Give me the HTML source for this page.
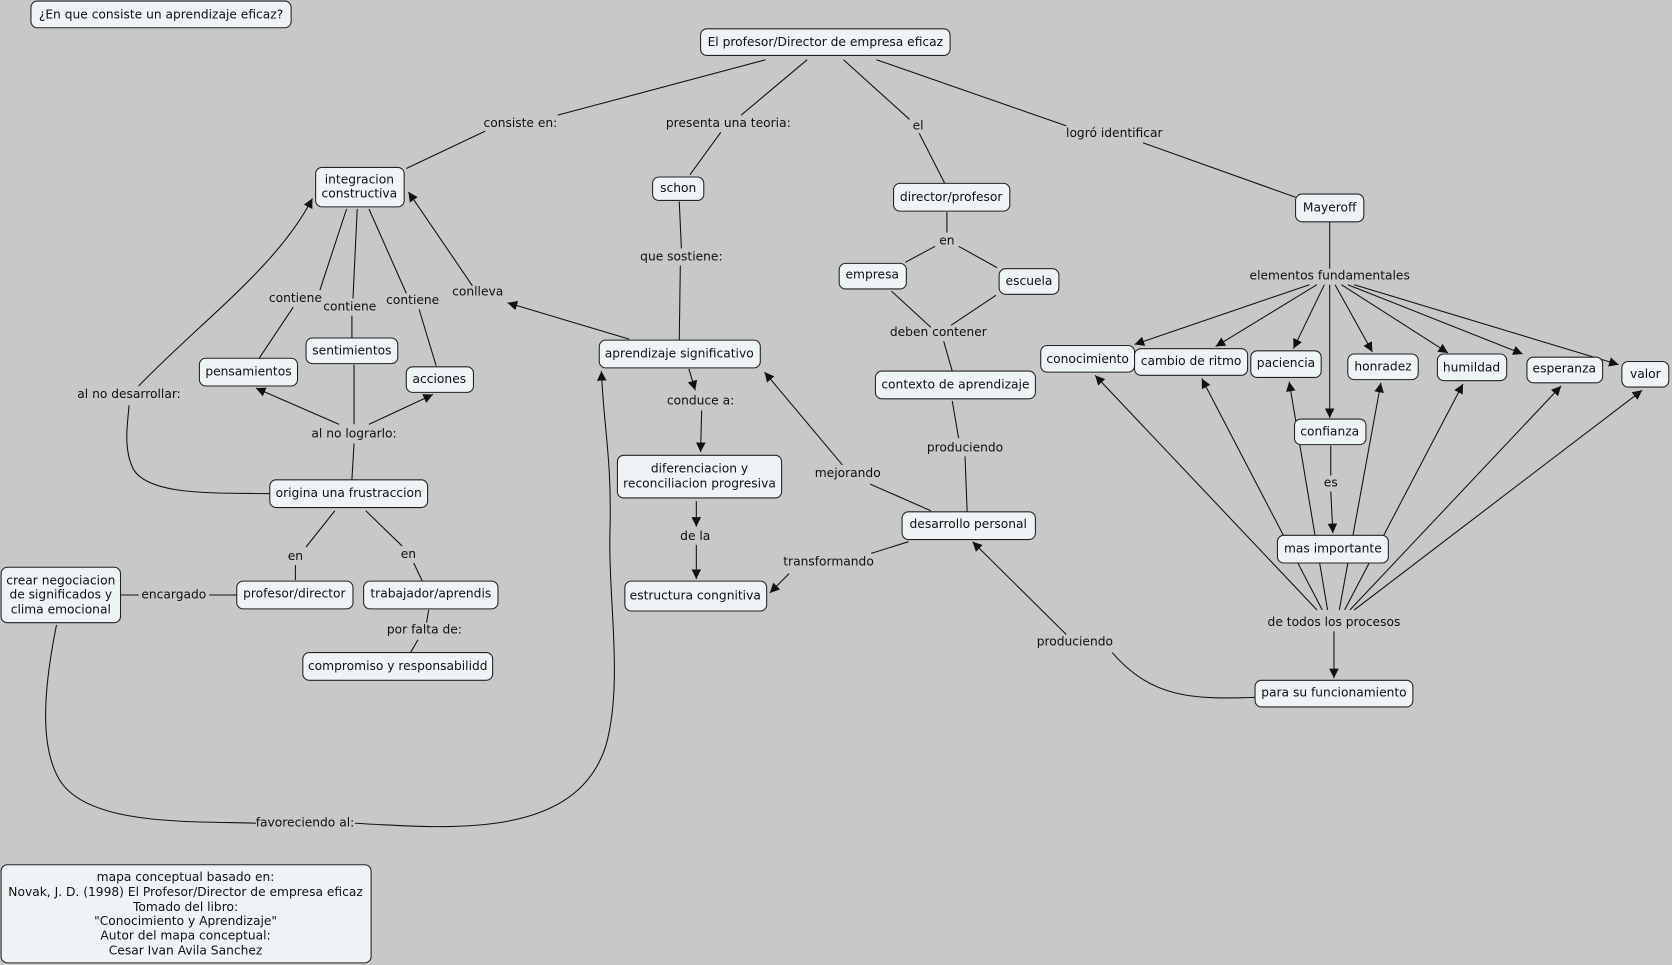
<!DOCTYPE html>
<html><head><meta charset="utf-8"><style>
html,body{margin:0;padding:0;background:#c8c8c8;}
svg{display:block;}
text{font-family:"DejaVu Sans","Liberation Sans",sans-serif;font-size:11.5px;fill:#111;text-anchor:middle;dominant-baseline:middle;}
.n{fill:#eef4f6;stroke:#222;stroke-width:1;}
.l{fill:none;stroke:#111;stroke-width:1;}
</style></head><body>
<svg width="1672" height="965" viewBox="0 0 1568 905" xmlns="http://www.w3.org/2000/svg">
<defs><marker id="a" viewBox="0 0 10 10" refX="10" refY="5" markerWidth="9" markerHeight="9" orient="auto" markerUnits="userSpaceOnUse"><path d="M0,0L10,5L0,10z" fill="#111"/></marker></defs>
<rect width="1568" height="905" fill="#c8c8c8"/>
<g class="l">
<path d="M718,56L523,108M455,123L381,158"/>
<path d="M757,56L695,108M676,124L647,164"/>
<path d="M791,56L853,112M862,125L886,172"/>
<path d="M822,56L1000,118M1072,134L1215,185"/>
<path d="M637,189L639,233M638,249L637,319"/>
<path d="M888,199L888,218M877,231L849,246M899,231L935,251"/>
<path d="M836,273L873,307M934,277L892,305M885,320L893,348"/>
<path d="M1247,208L1247,252"/>
<path d="M1228,267L1064,323" marker-end="url(#a)"/>
<path d="M1235,267L1140,325" marker-end="url(#a)"/>
<path d="M1242,267L1213,327" marker-end="url(#a)"/>
<path d="M1252,267L1287,330" marker-end="url(#a)"/>
<path d="M1258,267L1358,331" marker-end="url(#a)"/>
<path d="M1264,267L1428,332" marker-end="url(#a)"/>
<path d="M1270,267L1518,342" marker-end="url(#a)"/>
<path d="M1247,267L1247,392" marker-end="url(#a)"/>
<path d="M1248,418L1248,446M1248,461L1250,500" marker-end="url(#a)"/>
<path d="M1235,572L1027,352" marker-end="url(#a)"/>
<path d="M1240,572L1127,355" marker-end="url(#a)"/>
<path d="M1245,572L1209,358" marker-end="url(#a)"/>
<path d="M1256,572L1295,359" marker-end="url(#a)"/>
<path d="M1261,572L1372,360" marker-end="url(#a)"/>
<path d="M1266,572L1464,362" marker-end="url(#a)"/>
<path d="M1270,572L1540,366" marker-end="url(#a)"/>
<path d="M1251,592L1251,636" marker-end="url(#a)"/>
<path d="M1177,654C1120,656 1080,655 1043,612M1000,595L912,508" marker-end="url(#a)"/>
<path d="M325,196L300,272M275,288L243,336M335,196L331,280M330,296L330,317M346,196L381,275M393,290L409,343"/>
<path d="M443,268L383,180" marker-end="url(#a)"/>
<path d="M590,318L476,284" marker-end="url(#a)"/>
<path d="M253,463C200,462 140,465 125,440C115,420 120,395 121,380"/>
<path d="M130,362C190,300 260,250 293,186" marker-end="url(#a)"/>
<path d="M330,450L332,416M332,398L332,342"/>
<path d="M318,398L240,364" marker-end="url(#a)"/>
<path d="M346,398L406,370" marker-end="url(#a)"/>
<path d="M314,479L287,513M277,530L277,544M343,479L377,512M388,528L396,545"/>
<path d="M113,558L130,558M196,558L222,558"/>
<path d="M402,572L400,584M392,600L385,612"/>
<path d="M53,586C40,650 38,700 55,730C80,775 180,770 240,772"/>
<path d="M333,772C430,778 540,785 568,700C585,640 570,560 572,500C574,430 566,400 564,348" marker-end="url(#a)"/>
<path d="M646,346L652,366" marker-end="url(#a)"/>
<path d="M658,385L657,424" marker-end="url(#a)"/>
<path d="M653,470L653,494" marker-end="url(#a)"/>
<path d="M653,511L653,543" marker-end="url(#a)"/>
<path d="M852,508L817,519M740,538L722,556" marker-end="url(#a)"/>
<path d="M873,479L816,454M790,436L717,349" marker-end="url(#a)"/>
<path d="M893,376L899,411M905,428L907,480"/>
</g>
<g>
<rect class="n" x="29" y="1" width="244" height="25" rx="6"/><text x="151" y="14">¿En que consiste un  aprendizaje eficaz?</text>
<rect class="n" x="657" y="27" width="234" height="25" rx="6"/><text x="774" y="40">El profesor/Director de empresa eficaz</text>
<rect class="n" x="296" y="157" width="83" height="37" rx="6"/><text x="337" y="169">integracion</text><text x="337" y="182">constructiva</text>
<rect class="n" x="612" y="166" width="48" height="22" rx="6"/><text x="636" y="177">schon</text>
<rect class="n" x="838" y="172" width="109" height="26" rx="6"/><text x="892" y="185">director/profesor</text>
<rect class="n" x="1215" y="182" width="64" height="26" rx="6"/><text x="1247" y="195">Mayeroff</text>
<rect class="n" x="787" y="247" width="63" height="24" rx="6"/><text x="818" y="258">empresa</text>
<rect class="n" x="937" y="252" width="56" height="24" rx="6"/><text x="965" y="264">escuela</text>
<rect class="n" x="287" y="317" width="86" height="24" rx="6"/><text x="330" y="329">sentimientos</text>
<rect class="n" x="187" y="336" width="92" height="26" rx="6"/><text x="233" y="349">pensamientos</text>
<rect class="n" x="381" y="344" width="63" height="24" rx="6"/><text x="412" y="356">acciones</text>
<rect class="n" x="562" y="319" width="151" height="26" rx="6"/><text x="637" y="332">aprendizaje significativo</text>
<rect class="n" x="821" y="348" width="150" height="26" rx="6"/><text x="896" y="361">contexto de aprendizaje</text>
<rect class="n" x="976" y="324" width="88" height="25" rx="6"/><text x="1020" y="337">conocimiento</text>
<rect class="n" x="1064" y="327" width="106" height="25" rx="6"/><text x="1117" y="339">cambio de ritmo</text>
<rect class="n" x="1173" y="329" width="66" height="25" rx="6"/><text x="1206" y="341">paciencia</text>
<rect class="n" x="1264" y="332" width="66" height="24" rx="6"/><text x="1297" y="344">honradez</text>
<rect class="n" x="1348" y="332" width="65" height="25" rx="6"/><text x="1380" y="345">humildad</text>
<rect class="n" x="1432" y="335" width="71" height="24" rx="6"/><text x="1467" y="346">esperanza</text>
<rect class="n" x="1521" y="339" width="44" height="24" rx="6"/><text x="1543" y="351">valor</text>
<rect class="n" x="1214" y="393" width="67" height="24" rx="6"/><text x="1247" y="405">confianza</text>
<rect class="n" x="579" y="427" width="154" height="40" rx="6"/><text x="656" y="440">diferenciacion y</text><text x="656" y="454">reconciliacion progresiva</text>
<rect class="n" x="253" y="450" width="148" height="26" rx="6"/><text x="327" y="463">origina una frustraccion</text>
<rect class="n" x="846" y="480" width="125" height="26" rx="6"/><text x="908" y="492">desarrollo  personal</text>
<rect class="n" x="1198" y="502" width="104" height="26" rx="6"/><text x="1250" y="515">mas importante</text>
<rect class="n" x="1" y="532" width="112" height="52" rx="6"/><text x="57" y="545">crear negociacion</text><text x="57" y="558">de significados y</text><text x="57" y="572">clima emocional</text>
<rect class="n" x="222" y="545" width="109" height="26" rx="6"/><text x="276" y="557">profesor/director</text>
<rect class="n" x="341" y="545" width="126" height="26" rx="6"/><text x="404" y="557">trabajador/aprendis</text>
<rect class="n" x="586" y="545" width="133" height="28" rx="6"/><text x="652" y="559">estructura congnitiva</text>
<rect class="n" x="284" y="612" width="178" height="26" rx="6"/><text x="373" y="625">compromiso y responsabilidd</text>
<rect class="n" x="1177" y="638" width="148" height="25" rx="6"/><text x="1251" y="650">para su funcionamiento</text>
<rect class="n" x="1" y="811" width="347" height="92" rx="6"/>
<text x="174" y="823">mapa conceptual basado en:</text>
<text x="174" y="837">Novak, J. D. (1998) El Profesor/Director de empresa eficaz</text>
<text x="174" y="851">Tomado del libro:</text>
<text x="174" y="864">"Conocimiento y Aprendizaje"</text>
<text x="174" y="878">Autor del mapa conceptual:</text>
<text x="174" y="892">Cesar Ivan Avila Sanchez</text>
</g>
<g>
<text x="488" y="116">consiste en:</text>
<text x="683" y="116">presenta una teoria:</text>
<text x="861" y="118">el</text>
<text x="1045" y="125">logró identificar</text>
<text x="639" y="241">que sostiene:</text>
<text x="888" y="226">en</text>
<text x="880" y="312">deben contener</text>
<text x="1247" y="259">elementos fundamentales</text>
<text x="277" y="280">contiene</text>
<text x="328" y="288">contiene</text>
<text x="387" y="282">contiene</text>
<text x="448" y="274">conlleva</text>
<text x="121" y="370">al no desarrollar:</text>
<text x="332" y="407">al no lograrlo:</text>
<text x="657" y="376">conduce a:</text>
<text x="795" y="444">mejorando</text>
<text x="905" y="420">produciendo</text>
<text x="1248" y="453">es</text>
<text x="652" y="503">de la</text>
<text x="777" y="527">transformando</text>
<text x="277" y="522">en</text>
<text x="383" y="520">en</text>
<text x="163" y="558">encargado</text>
<text x="398" y="591">por falta de:</text>
<text x="1251" y="584">de todos los procesos</text>
<text x="1008" y="602">produciendo</text>
<text x="286" y="772">favoreciendo al:</text>
</g>
</svg>
</body></html>
